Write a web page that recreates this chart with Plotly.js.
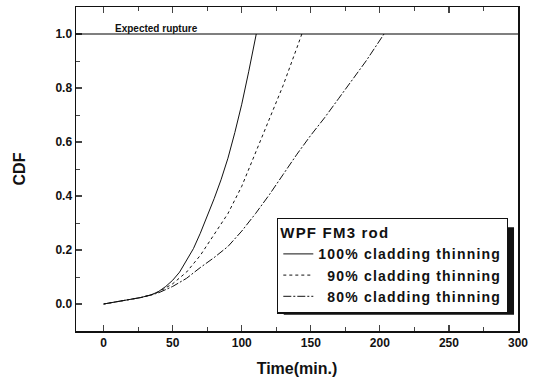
<!DOCTYPE html>
<html><head><meta charset="utf-8">
<script src="https://cdn.plot.ly/plotly-3.0.1.min.js"></script>
<style>html,body{margin:0;padding:0;background:#fff}#chart{width:541px;height:379px}
.legendtext, .legendtitletext{letter-spacing:1.2px}
</style>
</head><body><div id="chart"></div>
<script>
const x100 = [0,10,20,27,35,40,45,50,55,60,65,70,75,80,85,90,95,100,105,110.5];
const y100 = [0,0.008,0.016,0.024,0.035,0.047,0.065,0.088,0.118,0.16,0.205,0.262,0.325,0.39,0.46,0.54,0.635,0.74,0.86,1.0];
const x90 = [0,10,20,27,35,40,50,60,70,80,90,100,110,120,130,140,143.5];
const y90 = [0,0.008,0.016,0.024,0.035,0.045,0.075,0.118,0.18,0.26,0.335,0.436,0.56,0.68,0.81,0.95,1.0];
const x80 = [0,10,20,27,35,40,50,60,70,80,90,100,110,120,130,140,150,160,170,180,190,203];
const y80 = [0,0.008,0.016,0.024,0.034,0.042,0.065,0.095,0.135,0.172,0.213,0.27,0.335,0.405,0.48,0.555,0.625,0.69,0.76,0.83,0.9,1.0];
const seriesNames = ["100% cladding thinning", "\u200790% cladding thinning", "\u200780% cladding thinning"];
const legendTitle = "WPF FM3 rod";
const ruptureLevel = 1.0;
const ruptureLabel = "Expected rupture";
const xTitle = "Time(min.)";
const yTitle = "CDF";

const font = "Liberation Sans, Arial, sans-serif";
const traces = [
  {x:x100, y:y100, name:seriesNames[0], mode:'lines', line:{color:'#111', width:1, dash:'solid'}},
  {x:x90, y:y90, name:seriesNames[1], mode:'lines', line:{color:'#111', width:1, dash:'dot'}},
  {x:x80, y:y80, name:seriesNames[2], mode:'lines', line:{color:'#111', width:1, dash:'8px,2px,2px,2px'}}
];
const layout = {
  width:541, height:379,
  margin:{l:76, r:23, t:7, b:48},
  paper_bgcolor:'#fff', plot_bgcolor:'#fff',
  font:{family:font, color:'#111', size:12, weight:'bold'},
  showlegend:true,
  xaxis:{range:[-20,300], tickvals:[0,50,100,150,200,250,300], ticks:'inside', ticklen:6, tickwidth:1.2,
    minor:{dtick:25, tick0:0, ticks:'inside', ticklen:4, tickwidth:1},
    showline:true, linecolor:'#111', linewidth:1.5, mirror:'ticks', showgrid:false, zeroline:false,
    tickfont:{size:12, weight:'bold'}, title:{text:xTitle, font:{size:16, weight:'bold'}, standoff:14}},
  yaxis:{range:[-0.1,1.1], tickvals:[0,0.2,0.4,0.6,0.8,1.0], tickformat:'.1f', ticks:'inside', ticklen:6, tickwidth:1.2,
    minor:{dtick:0.1, tick0:0, ticks:'inside', ticklen:4, tickwidth:1},
    showline:true, linecolor:'#111', linewidth:1.5, mirror:true, showgrid:false, zeroline:false,
    tickfont:{size:12, weight:'bold'}, title:{text:yTitle, font:{size:16, weight:'bold'}, standoff:26}},
  legend:{x:0.455, y:0.35, xanchor:'left', yanchor:'top', bgcolor:'#fff', bordercolor:'#111', borderwidth:1.2,
    font:{size:14, family:font, weight:'bold'}, title:{text:legendTitle, font:{size:15, family:font, weight:'bold'}}, tracegroupgap:0},
  shapes:[
    {type:'line', xref:'paper', x0:0, x1:1, yref:'y', y0:ruptureLevel, y1:ruptureLevel, line:{color:'#000', width:1.2}},
    {type:'rect', xref:'paper', yref:'paper', x0:0.47, x1:0.991, y0:0.05, y1:0.32, fillcolor:'#111', line:{width:0}, layer:'above'}
  ],
  annotations:[
    {x:7, y:ruptureLevel, xref:'x', yref:'y', xanchor:'left', yanchor:'bottom', text:ruptureLabel, showarrow:false,
     font:{size:10, family:font, color:'#111', weight:'bold'}, yshift:-2}
  ]
};
Plotly.newPlot('chart', traces, layout, {staticPlot:true, displayModeBar:false});
</script></body></html>
